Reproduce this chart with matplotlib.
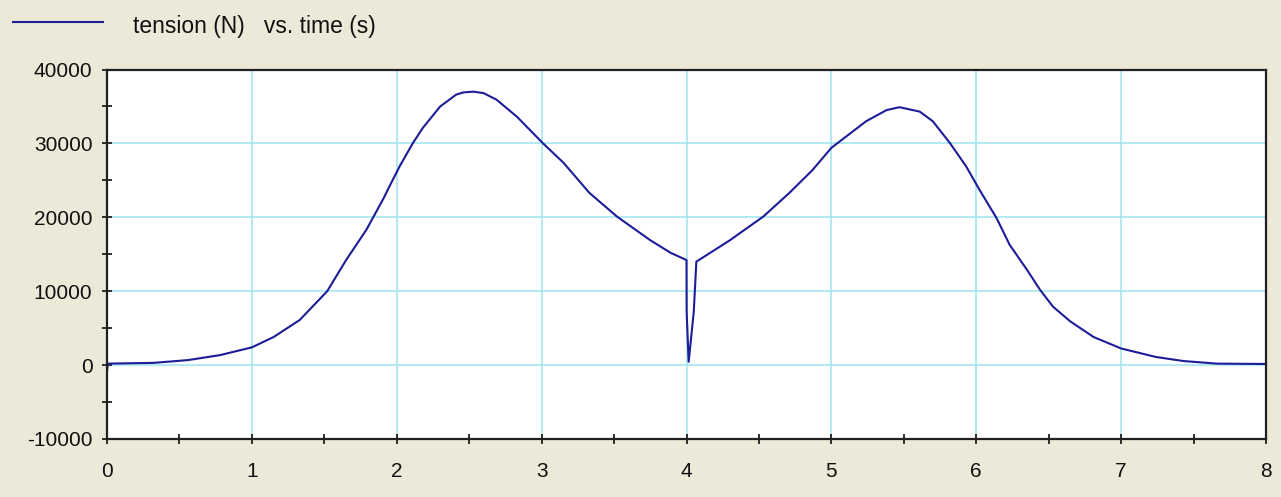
import matplotlib.pyplot as plt
from matplotlib.lines import Line2D
from matplotlib.ticker import MultipleLocator

plt.rcParams['font.family'] = ['Liberation Sans', 'DejaVu Sans']
plt.rcParams['axes.unicode_minus'] = False

# tension samples read along the run
time_s = [0.0, 0.005, 0.32, 0.56, 0.78, 1.0, 1.15, 1.33, 1.52, 1.65, 1.79, 1.91,
          1.95, 2.02, 2.11, 2.18, 2.30, 2.41, 2.46, 2.53, 2.60, 2.69, 2.83, 3.01,
          3.15, 3.33, 3.52, 3.75, 3.89, 3.99, 4.0, 4.001, 4.015, 4.05, 4.068,
          4.18, 4.30, 4.53, 4.71, 4.87, 5.0, 5.10, 5.24, 5.38, 5.47, 5.61, 5.70,
          5.82, 5.93, 6.02, 6.14, 6.23, 6.35, 6.44, 6.53, 6.65, 6.81, 7.0, 7.24,
          7.43, 7.66, 8.0]
tension_N = [-900, 200, 300, 680, 1350, 2400, 3800, 6100, 10000, 14200, 18300, 22600,
             24200, 26900, 30000, 32100, 35000, 36600, 36900, 37000, 36800, 35900, 33600, 30000,
             27400, 23300, 20100, 16900, 15200, 14300, 14200, 7200, 450, 7200, 14000,
             15400, 16900, 20100, 23300, 26400, 29400, 30900, 33000, 34500, 34900, 34300, 33000,
             30000, 26900, 23800, 19900, 16300, 12900, 10200, 7900, 5900, 3800, 2250, 1100,
             550, 200, 150]

bg = '#ECE9D8'
line_col = '#1c1c98'
W, H = 1281, 497

fig = plt.figure(figsize=(W / 100, H / 100), dpi=100, facecolor=bg)
ax = fig.add_axes([107 / W, 1 - 439 / H, (1266 - 107) / W, (439 - 69.5) / H])
ax.set_facecolor('white')

ax.plot(time_s, tension_N, color=line_col, lw=1.5)

ax.set_xlim(0, 8)
ax.set_ylim(-10000, 40000)
ax.xaxis.set_major_locator(MultipleLocator(1))
ax.xaxis.set_minor_locator(MultipleLocator(0.5))
ax.yaxis.set_major_locator(MultipleLocator(10000))
ax.yaxis.set_minor_locator(MultipleLocator(5000))
ax.grid(True, which='major', color='#a6e6ef', lw=1.2)
ax.set_axisbelow(True)

ax.tick_params(which='both', direction='inout', length=7, width=1.3, color='#202020',
               labelsize=15, labelcolor='#111111')
ax.tick_params(axis='x', which='major', pad=13)
ax.tick_params(axis='y', which='major', pad=7)
for s in ax.spines.values():
    s.set_color('#202020')
    s.set_linewidth(1.6)

# legend row above the plot
fig.add_artist(Line2D([13 / W, 103 / W], [1 - 21.7 / H] * 2, color=line_col, lw=1.5))
fig.text(133 / W, 1 - 33 / H, 'tension (N)   vs. time (s)', fontsize=16.5,
         color='#111111', va='baseline', ha='left')

fig.savefig('out.png', dpi=100, facecolor=bg)
